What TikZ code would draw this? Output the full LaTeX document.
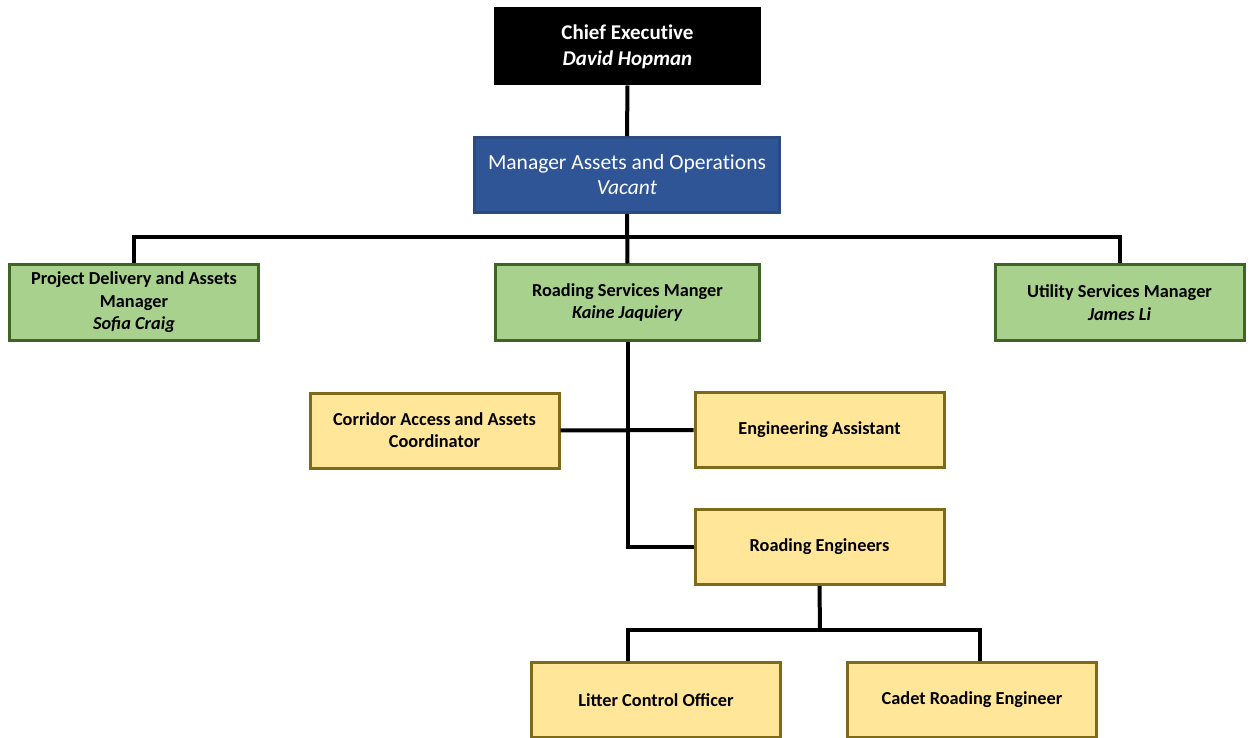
\documentclass[tikz,border=0pt]{standalone}
\usepackage{fontspec}
\setmainfont{Carlito}
\definecolor{mgrblue}{HTML}{2F5597}
\definecolor{mgrblueedge}{HTML}{2A4A80}
\definecolor{leadgreen}{HTML}{A9D18E}
\definecolor{leadgreenedge}{HTML}{3F6526}
\definecolor{staffyellow}{HTML}{FFE699}
\definecolor{staffyellowedge}{HTML}{7F6A1A}
% keep "t" and "i" as separate glyphs
\newcommand{\tisplit}{t\kern0pt i}
\tikzset{
  box/.style={draw, line width=3pt, align=center, inner sep=2pt,
    minimum width=249pt, minimum height=75pt},
  ceo/.style={box, fill=black, draw=black, text=white, minimum width=264pt,
    font=\fontsize{21}{26}\selectfont\bfseries},
  mgr/.style={box, fill=mgrblue, draw=mgrblueedge, text=white, minimum width=305pt,
    font=\fontsize{21.5}{25}\selectfont},
  lead/.style={box, fill=leadgreen, draw=leadgreenedge,
    font=\fontsize{18.3}{22.5}\selectfont\bfseries},
  staff/.style={box, fill=staffyellow, draw=staffyellowedge,
    font=\fontsize{18.3}{22}\selectfont\bfseries},
  link/.style={line width=4pt, draw=black}
}
\begin{document}
\begin{tikzpicture}[x=1pt, y=-1pt]
\useasboundingbox (0,0) rectangle (1251,738);

\node[ceo] (ceo) at (627.5,46.5) {Chief Execu\tisplit ve\\\textit{David Hopman}};
\node[mgr] (mgr) at (627,175) {Manager Assets and Opera\tisplit ons\\\textit{Vacant}};
\node[lead] (pda) at (134,302.5) {Project Delivery and Assets\\Manager\\\textit{Sofia Craig}};
\node[lead, minimum width=264pt] (rsm) at (627.5,302.5) {Roading Services Manger\\\textit{Kaine Jaquiery}};
\node[lead] (usm) at (1119.5,302.5) {Utility Services Manager\\\textit{James Li}};
\node[staff] (caa) at (434.5,430.5) {Corridor Access and Assets\\Coordinator};
\node[staff] (ea) at (819.5,430) {Engineering Assistant};
\node[staff] (re) at (819.5,547) {Roading Engineers};
\node[staff] (lco) at (656,700) {Litter Control Officer};
\node[staff] (cre) at (972,700) {Cadet Roading Engineer};

% junction points of the reporting lines
\coordinate (bus1) at (627,237);
\coordinate (bus2) at (820,630);
\coordinate (dropL) at (628,661);
\coordinate (dropR) at (980,661);

\draw[link] (ceo.south) -- (mgr.north);
\draw[link] (mgr.south) -- (rsm.north);
\draw[link] (pda.north) |- (bus1) -| (usm.north);
\draw[link] (caa.east) -- (ea.west);
\draw[link] (rsm.south) |- (re.west);
\draw[link] (re.south) -- (bus2);
\draw[link] (dropL) |- (bus2) -| (dropR);
\end{tikzpicture}
\end{document}
